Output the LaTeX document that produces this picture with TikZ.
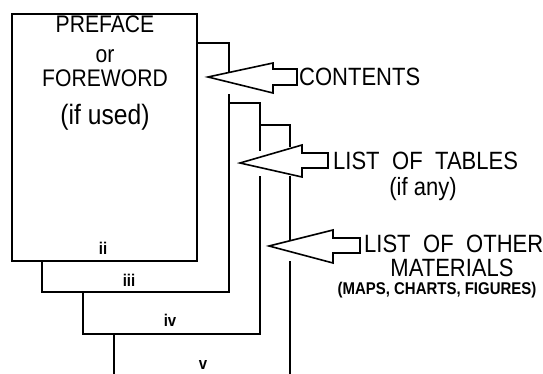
\documentclass[tikz,border=0pt]{standalone}
\usepackage{fontspec}
\setmainfont{Liberation Sans}
\newfontfamily\condfont[FakeStretch=0.88]{Liberation Sans}
\newcommand\widesp{\spaceskip=0.5em\relax}
\begin{document}
\begin{tikzpicture}[x=1pt,y=-1pt,
  pageline/.style={line width=1.6pt,line cap=rect,line join=miter},
  bigarrow/.style={line width=1.6pt,line join=miter,fill=white},
  lbl/.style={inner sep=0pt,font=\condfont\fontsize{24}{28}\selectfont},
  widelbl/.style={inner sep=0pt,font=\condfont\fontsize{25}{28}\selectfont,execute at begin node=\widesp},
  pgnum/.style={inner sep=0pt,font=\condfont\bfseries\fontsize{17}{19}\selectfont}]
\useasboundingbox (0,0) rectangle (543,374);
% page 1 (ii)
\draw[pageline] (12,14) rectangle (197,261);
% page 2 (iii)
\draw[pageline] (42,261) -- (42,292) -- (229,292) -- (229,95);
\draw[pageline] (198,43) -- (229,43) -- (229,72);
% page 3 (iv)
\draw[pageline] (83,292) -- (83,334) -- (260,334) -- (260,177);
\draw[pageline] (229,103) -- (260,103) -- (260,150);
% page 4 (v)
\draw[pageline] (114,334) -- (114,374);
\draw[pageline] (260,125) -- (290,125) -- (290,146);
\draw[pageline] (290,177) -- (290,240);
\draw[pageline] (290,262) -- (290,374);
% arrows
\draw[bigarrow] (208,77) -- (273,63) -- (273,69) -- (297,69) -- (297,85) -- (273,85) -- (273,93) -- cycle;
\draw[bigarrow] (240,163) -- (302,145) -- (302,153) -- (328,153) -- (328,168) -- (302,168) -- (302,177) -- cycle;
\draw[bigarrow] (269,246) -- (333,230) -- (333,238) -- (360,238) -- (360,253) -- (333,253) -- (333,263) -- cycle;
% page 1 texts
\node[lbl] (preface) at (105,24) {PREFACE};
\node[lbl] (or) at (105,56) {or};
\node[lbl] (foreword) at (105,78) {FOREWORD};
\node[lbl,font=\condfont\fontsize{28}{30}\selectfont] (ifused) at (105,117) {(if used)};
% page numbers
\node[pgnum] (pii) at (103,248) {ii};
\node[pgnum] (piii) at (129,280) {iii};
\node[pgnum] (piv) at (170,320) {iv};
\node[pgnum] (pv) at (203,365) {v};
% labels
\node[widelbl,anchor=west] (contents) at (299,77) {CONTENTS};
\node[widelbl,anchor=west] (lot) at (333,161) {LIST OF TABLES};
\node[lbl,font=\condfont\fontsize{25}{28}\selectfont] (ifany) at (423,189) {(if any)};
\node[widelbl,anchor=west] (loo) at (364,244) {LIST OF OTHER};
\node[widelbl] (materials) at (452,268) {MATERIALS};
\node[inner sep=0pt,font=\condfont\bfseries\fontsize{17}{19}\selectfont] (maps) at (437,290) {(MAPS, CHARTS, FIGURES)};
\end{tikzpicture}
\end{document}
